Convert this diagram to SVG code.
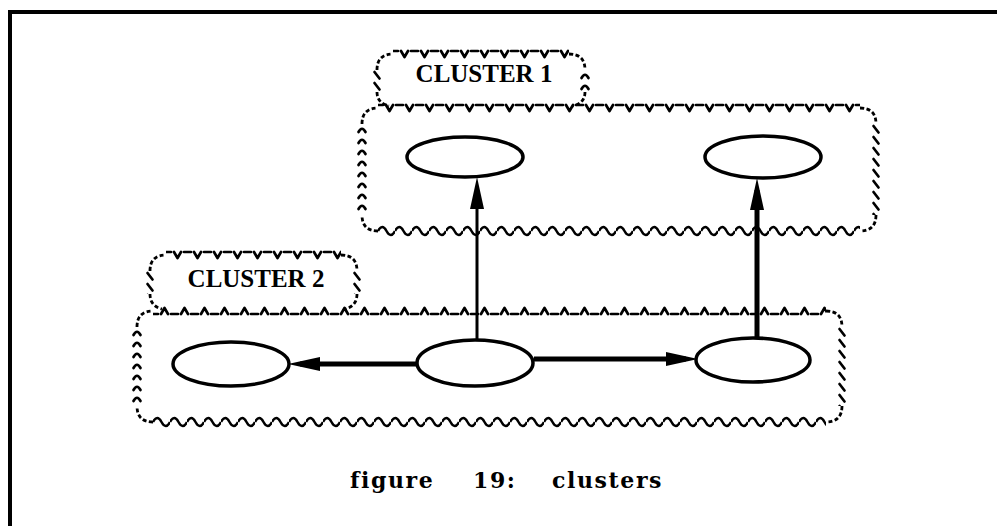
<svg xmlns="http://www.w3.org/2000/svg" width="997" height="526" viewBox="0 0 997 526">
<style>
.node{fill:#fff;stroke:#000;stroke-width:3.5}
.corner{fill:none;stroke:#000;stroke-width:2.8;stroke-dasharray:4 2.5}
.edge{fill:none;stroke:#000;stroke-width:2.7;stroke-linecap:round;stroke-linejoin:round}
.lbl{font-family:"Liberation Serif","Times New Roman",serif;font-weight:bold;font-size:25px;text-anchor:middle;fill:#000}
.cap{font-family:"DejaVu Serif",serif;font-weight:bold;font-size:22px;letter-spacing:1.6px;fill:#000}
.conn{stroke:#000;fill:none}
</style>
<defs>
<pattern id="topV" patternUnits="userSpaceOnUse" width="20" height="12">
<path class="edge" d="M0.5,3 H5 M8,3 L11.5,9 L15,3 M18,3 H19.5"/>
</pattern>
<pattern id="topUp" patternUnits="userSpaceOnUse" width="20" height="12">
<path class="edge" d="M0.5,9 H5 M8,9 L11.5,3 L15,9 M18,9 H19.5"/>
</pattern>
<pattern id="wave" patternUnits="userSpaceOnUse" width="17" height="12">
<path fill="none" stroke="#000" stroke-width="2.5" d="M0,6 Q4.25,-2 8.5,6 Q12.75,14 17,6"/>
</pattern>
<pattern id="chev" patternUnits="userSpaceOnUse" width="12" height="11">
<path class="edge" stroke-width="3" d="M2.5,8 Q6,1.5 9.5,8"/>
</pattern>
<pattern id="slash" patternUnits="userSpaceOnUse" width="12" height="11">
<path class="edge" stroke-width="3" d="M3.5,2 L8.5,8.5"/>
</pattern>
<marker id="ah" viewBox="0 0 32 16" refX="20" refY="8" markerWidth="32" markerHeight="16" markerUnits="userSpaceOnUse" orient="auto">
<path d="M0,1 L32,8 L0,15 Z" fill="#000"/>
</marker>
</defs>

<path d="M10,526 V12 H997" fill="none" stroke="#000" stroke-width="4"/>

<g id="cluster1">
<rect transform="translate(378,102)" width="482" height="12" fill="url(#topV)"/>
<rect transform="translate(378,225)" width="482" height="12" fill="url(#wave)"/>
<rect transform="translate(356,124)" width="12" height="91" fill="url(#chev)"/>
<rect transform="translate(870,124)" width="12" height="91" fill="url(#slash)"/>
<path class="corner" d="M362,124 Q362,108 378,108"/>
<path class="corner" d="M860,108 Q876,108 876,124"/>
<path class="corner" d="M876,215 Q876,231 860,231"/>
<path class="corner" d="M378,231 Q362,231 362,215"/>
</g>

<g id="cluster1-label">
<rect transform="translate(393,48)" width="176" height="12" fill="url(#topV)"/>
<rect transform="translate(371,70)" width="12" height="22" fill="url(#slash)"/>
<rect transform="translate(579,70)" width="12" height="22" fill="url(#chev)"/>
<path class="corner" d="M377,70 Q377,54 393,54"/>
<path class="corner" d="M569,54 Q585,54 585,70"/>
<path class="corner" d="M377,92 Q377,103 389,106"/>
<path class="corner" d="M585,92 Q585,103 573,106"/>
<text class="lbl" x="484" y="82">CLUSTER 1</text>
</g>

<g id="cluster2">
<rect transform="translate(153,305)" width="673" height="12" fill="url(#topUp)"/>
<rect transform="translate(153,416)" width="673" height="12" fill="url(#wave)"/>
<rect transform="translate(131,327)" width="12" height="79" fill="url(#chev)"/>
<rect transform="translate(836,327)" width="12" height="79" fill="url(#slash)"/>
<path class="corner" d="M137,327 Q137,311 153,311"/>
<path class="corner" d="M826,311 Q842,311 842,327"/>
<path class="corner" d="M842,406 Q842,422 826,422"/>
<path class="corner" d="M153,422 Q137,422 137,406"/>
</g>

<g id="cluster2-label">
<rect transform="translate(166,249)" width="175" height="12" fill="url(#topV)"/>
<rect transform="translate(144,271)" width="12" height="23" fill="url(#slash)"/>
<rect transform="translate(351,271)" width="12" height="23" fill="url(#slash)"/>
<path class="corner" d="M150,271 Q150,255 166,255"/>
<path class="corner" d="M341,255 Q357,255 357,271"/>
<path class="corner" d="M150,294 Q150,306 162,309"/>
<path class="corner" d="M357,294 Q357,306 345,309"/>
<text class="lbl" x="256" y="287">CLUSTER 2</text>
</g>

<g id="connectors">
<line class="conn" stroke-width="3" x1="477" y1="340" x2="477" y2="189" marker-end="url(#ah)"/>
<line class="conn" stroke-width="5" x1="757" y1="338" x2="757" y2="190" marker-end="url(#ah)"/>
<line class="conn" stroke-width="5" x1="417" y1="364" x2="300" y2="364" marker-end="url(#ah)"/>
<line class="conn" stroke-width="5" x1="534" y1="359" x2="686" y2="359" marker-end="url(#ah)"/>
</g>

<g id="node-c1-left"><ellipse class="node" cx="465" cy="157" rx="58" ry="20"/></g>
<g id="node-c1-right"><ellipse class="node" cx="763" cy="157" rx="58" ry="21"/></g>
<g id="node-c2-left"><ellipse class="node" cx="231" cy="364" rx="58" ry="22"/></g>
<g id="node-c2-center"><ellipse class="node" cx="475" cy="363" rx="58" ry="23"/></g>
<g id="node-c2-right"><ellipse class="node" cx="753" cy="360" rx="57" ry="22"/></g>

<text class="cap" y="488"><tspan x="350">figure</tspan><tspan x="473">19:</tspan><tspan x="552">clusters</tspan></text>
</svg>
